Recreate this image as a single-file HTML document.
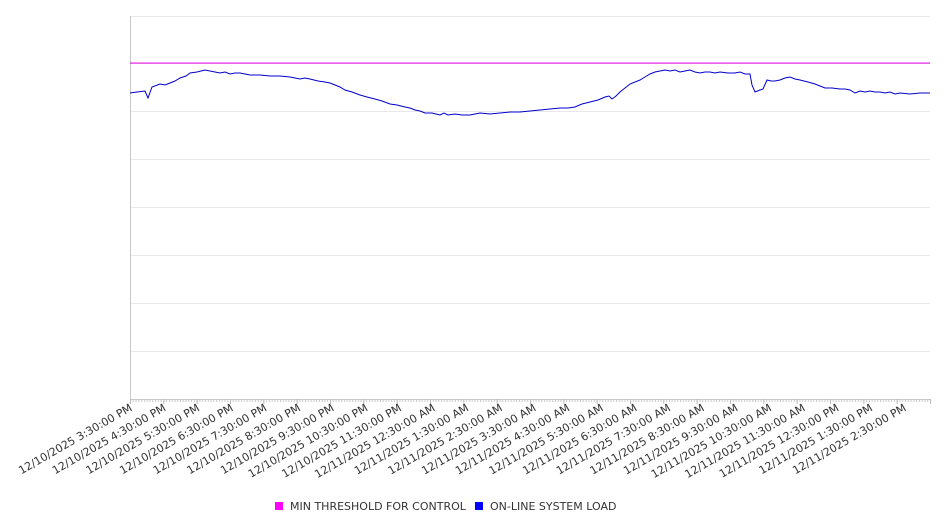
<!DOCTYPE html>
<html><head><style>body{margin:0;background:#fff}svg{display:block;font-family:"DejaVu Sans","Liberation Sans",sans-serif}</style></head>
<body>
<svg width="946" height="526" viewBox="0 0 946 526" xmlns="http://www.w3.org/2000/svg">
<defs>
<pattern id="mt" x="130" y="399" width="2.7778" height="3" patternUnits="userSpaceOnUse"><rect x="0" y="0" width="1" height="3" fill="#c8c8c8"/></pattern>
<pattern id="Mt" x="130" y="399" width="33.3333" height="5" patternUnits="userSpaceOnUse"><rect x="0" y="0" width="1" height="5" fill="#b8b8b8"/></pattern>
</defs>
<g stroke="#e8e8e8" stroke-width="1">
<line x1="130" y1="16.5" x2="930" y2="16.5"/>
<line x1="130" y1="111.5" x2="930" y2="111.5"/>
<line x1="130" y1="159.5" x2="930" y2="159.5"/>
<line x1="130" y1="207.5" x2="930" y2="207.5"/>
<line x1="130" y1="255.5" x2="930" y2="255.5"/>
<line x1="130" y1="303.5" x2="930" y2="303.5"/>
<line x1="130" y1="351.5" x2="930" y2="351.5"/>
</g>
<line x1="130.5" y1="16" x2="130.5" y2="399" stroke="#c8c8c8"/>
<line x1="130" y1="399.5" x2="930" y2="399.5" stroke="#c8c8c8"/>
<rect x="130" y="399" width="801" height="3" fill="url(#mt)"/>
<rect x="130" y="399" width="801" height="5" fill="url(#Mt)"/>
<rect x="130" y="62.5" width="800" height="1.2" fill="#e020e0"/>
<polyline fill="none" stroke="#0000cc" stroke-width="1" points="130,93 137,92 145,91 148,98 152,87 160,84 165,85 170,83 175,81 180,78 186,76 190,73 197,72 205,70 210,71 215,72 220,73 225,72 230,74 235,73 240,73 245,74 250,75 260,75 270,76 280,76 290,77 295,78 300,79 305,78 310,79 318,81 325,82 330,83 335,85 340,87 345,90 352,92 360,95 367,97 375,99 382,101 390,104 397,105 405,107 410,108 415,110 420,111 425,113 432,113 440,115 444,113 448,115 455,114 462,115 470,115 475,114 480,113 490,114 500,113 510,112 520,112 530,111 540,110 550,109 560,108 568,108 575,107 582,104 590,102 598,100 605,97 609,96 612,99 616,96 620,92 625,88 630,84 635,82 640,80 645,77 650,74 655,72 660,71 665,70 670,71 675,70 680,72 685,71 690,70 695,72 700,73 705,72 710,72 715,73 720,72 728,73 735,73 740,72 745,74 750,74 752,85 755,92 760,90 763,89 767,80 771,81 775,81 780,80 785,78 790,77 795,79 800,80 808,82 815,84 820,86 825,88 832,88 840,89 845,89 850,90 855,93 860,91 865,92 870,91 875,92 880,92 885,93 890,92 895,94 900,93 910,94 920,93 930,93"/>
<g font-size="11" fill="#333" text-anchor="end">
<text transform="translate(133,410) rotate(-30)">12/10/2025 3:30:00 PM</text>
<text transform="translate(166.7,410) rotate(-30)">12/10/2025 4:30:00 PM</text>
<text transform="translate(200.3,410) rotate(-30)">12/10/2025 5:30:00 PM</text>
<text transform="translate(234,410) rotate(-30)">12/10/2025 6:30:00 PM</text>
<text transform="translate(267.6,410) rotate(-30)">12/10/2025 7:30:00 PM</text>
<text transform="translate(301.3,410) rotate(-30)">12/10/2025 8:30:00 PM</text>
<text transform="translate(334.9,410) rotate(-30)">12/10/2025 9:30:00 PM</text>
<text transform="translate(368.6,410) rotate(-30)">12/10/2025 10:30:00 PM</text>
<text transform="translate(402.2,410) rotate(-30)">12/10/2025 11:30:00 PM</text>
<text transform="translate(435.9,410) rotate(-30)">12/11/2025 12:30:00 AM</text>
<text transform="translate(469.5,410) rotate(-30)">12/11/2025 1:30:00 AM</text>
<text transform="translate(503.2,410) rotate(-30)">12/11/2025 2:30:00 AM</text>
<text transform="translate(536.8,410) rotate(-30)">12/11/2025 3:30:00 AM</text>
<text transform="translate(570.5,410) rotate(-30)">12/11/2025 4:30:00 AM</text>
<text transform="translate(604.1,410) rotate(-30)">12/11/2025 5:30:00 AM</text>
<text transform="translate(637.8,410) rotate(-30)">12/11/2025 6:30:00 AM</text>
<text transform="translate(671.4,410) rotate(-30)">12/11/2025 7:30:00 AM</text>
<text transform="translate(705.1,410) rotate(-30)">12/11/2025 8:30:00 AM</text>
<text transform="translate(738.7,410) rotate(-30)">12/11/2025 9:30:00 AM</text>
<text transform="translate(772.4,410) rotate(-30)">12/11/2025 10:30:00 AM</text>
<text transform="translate(806,410) rotate(-30)">12/11/2025 11:30:00 AM</text>
<text transform="translate(839.7,410) rotate(-30)">12/11/2025 12:30:00 PM</text>
<text transform="translate(873.3,410) rotate(-30)">12/11/2025 1:30:00 PM</text>
<text transform="translate(907,410) rotate(-30)">12/11/2025 2:30:00 PM</text>
</g>
<rect x="275" y="502" width="8" height="8" fill="#ff00ff"/>
<text x="290" y="510" font-size="11" fill="#333">MIN THRESHOLD FOR CONTROL</text>
<rect x="475" y="502" width="8" height="8" fill="#0000ff"/>
<text x="490" y="510" font-size="11" fill="#333">ON-LINE SYSTEM LOAD</text>
</svg>
</body></html>
